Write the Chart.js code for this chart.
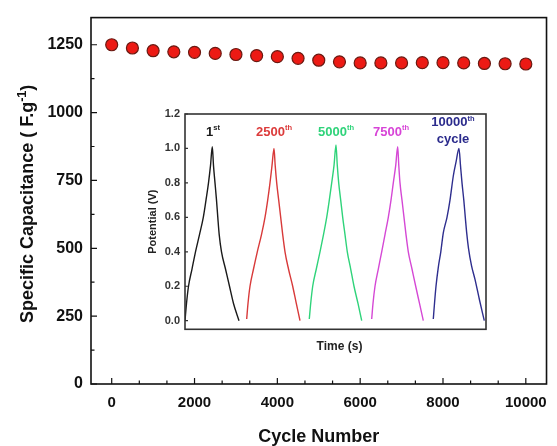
<!DOCTYPE html>
<html><head><meta charset="utf-8">
<script src="https://cdn.jsdelivr.net/npm/chart.js@4.4.1/dist/chart.umd.min.js"></script>
<style>
html,body{margin:0;padding:0;background:#fff;}
#wrap{position:relative;width:557px;height:446px;background:#fff;}
#main{position:absolute;left:0;top:0;}
#inset{position:absolute;left:140px;top:100px;}
</style></head><body>
<div id="wrap">
<canvas id="main" width="557" height="446"></canvas>
<canvas id="inset" width="360" height="260"></canvas>
</div>
<script>
// ---------- main chart data ----------
const cycleNumbers = [0,500,1000,1500,2000,2500,3000,3500,4000,4500,5000,5500,6000,6500,7000,7500,8000,8500,9000,9500,10000];
const capacitance  = [1250,1238,1228,1224,1222,1218,1214,1210,1206,1200,1193,1187,1183,1183,1183,1184,1184,1183,1181,1180,1179];
const xTickLabels = [0,2000,4000,6000,8000,10000];
const xMinorTicks = [666.7,1333.3,2666.7,3333.3,4666.7,5333.3,6666.7,7333.3,8666.7,9333.3];
const yTickLabels = [0,250,500,750,1000,1250];
const yMinorTicks = [125,375,625,875,1125];

// ---------- inset data (galvanostatic charge/discharge) ----------
const insetYTicks = [0,0.2,0.4,0.6,0.8,1.0,1.2];
const cycle1Time      = [0,1.5,3.5,7,10.5,14.5,18.3,21,23.5,25.5,27.3,28.5,30,31.5,32.8,34.2,36.5,40.5,44.5,48.5,54];
const cycle1Potential = [0.0,0.1,0.2,0.3,0.4,0.5,0.6,0.7,0.8,0.9,1.01,0.9,0.8,0.7,0.6,0.5,0.4,0.3,0.2,0.1,0.0];
const cycle2500Time      = [61.7,63,65,68.5,72.3,76.5,80,82.7,85,87,89,90.2,91.7,93.7,95.7,97.7,100,103.5,107.7,111.3,115];
const cycle2500Potential = [0.01,0.1,0.2,0.3,0.4,0.5,0.6,0.7,0.8,0.9,1.0,0.9,0.8,0.7,0.6,0.5,0.4,0.3,0.2,0.1,0.0];
const cycle5000Time      = [124.3,125.7,127.7,131.3,135,138.5,141.7,144.3,146.7,149,151,152.3,153.7,155.7,157.7,160,162.3,165.7,169,173,176.7];
const cycle5000Potential = [0.01,0.1,0.2,0.3,0.4,0.5,0.6,0.7,0.8,0.9,1.02,0.9,0.8,0.7,0.6,0.5,0.4,0.3,0.2,0.1,0.0];
const cycle7500Time      = [186.7,188,190,193.3,196.7,200,203.3,206,208.3,210.7,212.7,213.8,215,217,219,221,223.3,227,230.7,234.5,238.3];
const cycle7500Potential = [0.01,0.1,0.2,0.3,0.4,0.5,0.6,0.7,0.8,0.9,1.01,0.9,0.8,0.7,0.6,0.5,0.4,0.3,0.2,0.1,0.0];
const cycle10000Time      = [248.3,249.5,251,253.3,255.8,258.3,262,265,268.3,271,274,275.5,277,278.8,280.3,281.7,283.5,286.5,290,294.5,299.3];
const cycle10000Potential = [0.01,0.1,0.2,0.31,0.4,0.51,0.6,0.7,0.84,0.92,1.0,0.9,0.8,0.7,0.6,0.51,0.42,0.32,0.24,0.12,0.0];
const insetLabels = [
  {parts:[['1',0],['st',1]], t:28, v:1.10, color:'#1a1a1a'},
  {parts:[['2500',0],['th',1]], t:89, v:1.10, color:'#dc3b3b'},
  {parts:[['5000',0],['th',1]], t:151, v:1.10, color:'#2fd37a'},
  {parts:[['7500',0],['th',1]], t:206, v:1.10, color:'#d744d7'},
  {parts:[['10000',0],['th',1]], t:268, v:1.157, color:'#2b2b8c'},
  {parts:[['cycle',0]], t:268, v:1.056, color:'#2b2b8c'}
];

const FONT = '"Liberation Sans", Arial, Helvetica, sans-serif';
function drawRich(ctx, parts, x, yc, size, color, supScale){
  supScale = supScale || 0.6;
  let w = 0;
  parts.forEach(p=>{ctx.font='bold '+(p[1]?size*supScale:size)+'px '+FONT; w+=ctx.measureText(p[0]).width;});
  let cx = x - w/2;
  const base = yc + size*0.36;
  ctx.fillStyle = color; ctx.textAlign='left'; ctx.textBaseline='alphabetic';
  parts.forEach(p=>{
    const s = p[1]?size*supScale:size;
    ctx.font='bold '+s+'px '+FONT;
    ctx.fillText(p[0], cx, p[1]? base - size*0.42 : base);
    cx += ctx.measureText(p[0]).width;
  });
}

const mainDecor = {
  id:'mainDecor',
  afterDraw(chart){
    const {ctx, chartArea:a, scales:{x,y}} = chart;
    ctx.save();
    ctx.strokeStyle='#111'; ctx.lineWidth=1.2;
    ctx.beginPath();
    xTickLabels.forEach(v=>{const p=x.getPixelForValue(v); ctx.moveTo(p,a.bottom); ctx.lineTo(p,a.bottom-6);});
    xMinorTicks.forEach(v=>{const p=x.getPixelForValue(v); ctx.moveTo(p,a.bottom); ctx.lineTo(p,a.bottom-3.5);});
    yTickLabels.forEach(v=>{const p=y.getPixelForValue(v); ctx.moveTo(a.left,p); ctx.lineTo(a.left+6,p);});
    yMinorTicks.forEach(v=>{const p=y.getPixelForValue(v); ctx.moveTo(a.left,p); ctx.lineTo(a.left+3.5,p);});
    ctx.stroke();
    ctx.lineWidth=1.6;
    ctx.strokeRect(a.left, a.top, a.right-a.left, a.bottom-a.top);
    drawRich(ctx, [['Cycle Number',0]], (a.left+a.right)/2, 436, 18, '#111');
    ctx.translate(27, (a.top+a.bottom)/2 + 3);
    ctx.rotate(-Math.PI/2);
    drawRich(ctx, [['Specific Capacitance ( F.g',0],['-1',1],[')',0]], 0, 0, 18, '#111', 0.7);
    ctx.restore();
  }
};

new Chart(document.getElementById('main'), {
  type:'scatter',
  data:{datasets:[{
    data: cycleNumbers.map((c,i)=>({x:c, y:capacitance[i]})),
    pointRadius:6, pointHoverRadius:6,
    backgroundColor:'#ec1a14', borderColor:'#6a1a12', borderWidth:1.2
  }]},
  options:{
    responsive:false, animation:false, devicePixelRatio:1,
    layout:{padding:{top:15, right:4, left:0, bottom:0}},
    plugins:{legend:{display:false}, tooltip:{enabled:false}},
    scales:{
      x:{type:'linear', min:-500, max:10500,
        afterBuildTicks(s){ s.ticks = xTickLabels.map(v=>({value:v})); },
        afterFit(s){ s.height = 62; },
        grid:{display:false, drawTicks:false}, border:{display:false},
        ticks:{padding:10, color:'#111', font:{family:FONT, size:15, weight:'bold'}, callback:v=>String(v)}
      },
      y:{type:'linear', min:0, max:1350,
        afterBuildTicks(s){ s.ticks = yTickLabels.map(v=>({value:v})); },
        afterFit(s){ s.width = 91; },
        grid:{display:false, drawTicks:false}, border:{display:false},
        ticks:{padding:8, color:'#111', font:{family:FONT, size:16, weight:'bold'}, callback:v=>String(v)}
      }
    }
  },
  plugins:[mainDecor]
});

const insetDecor = {
  id:'insetDecor',
  afterDraw(chart){
    const {ctx, chartArea:a, scales:{x,y}} = chart;
    ctx.save();
    ctx.strokeStyle='#333'; ctx.lineWidth=1.2;
    ctx.beginPath();
    insetYTicks.forEach(v=>{const p=y.getPixelForValue(v); ctx.moveTo(a.left,p); ctx.lineTo(a.left+3,p);});
    ctx.stroke();
    ctx.lineWidth=1.6;
    ctx.strokeRect(a.left, a.top, a.right-a.left, a.bottom-a.top);
    insetLabels.forEach(l=>drawRich(ctx, l.parts, x.getPixelForValue(l.t), y.getPixelForValue(l.v), 13, l.color, 0.58));
    drawRich(ctx, [['Time (s)',0]], (a.left+a.right)/2+4, 246, 12, '#222');
    ctx.translate(12, (a.top+a.bottom)/2);
    ctx.rotate(-Math.PI/2);
    drawRich(ctx, [['Potential (V)',0]], 0, 0, 11, '#222');
    ctx.restore();
  }
};

function curve(t, v, color){
  return {data:t.map((tt,i)=>({x:tt, y:v[i]})), borderColor:color, borderWidth:1.4,
    pointRadius:0, fill:false, cubicInterpolationMode:'monotone'};
}

new Chart(document.getElementById('inset'), {
  type:'line',
  data:{datasets:[
    curve(cycle1Time, cycle1Potential, '#1a1a1a'),
    curve(cycle2500Time, cycle2500Potential, '#d83a3a'),
    curve(cycle5000Time, cycle5000Potential, '#2fd37a'),
    curve(cycle7500Time, cycle7500Potential, '#d548d5'),
    curve(cycle10000Time, cycle10000Potential, '#2e2e8e')
  ]},
  options:{
    responsive:false, animation:false, devicePixelRatio:1,
    layout:{padding:{top:14, right:14, left:0, bottom:0}},
    plugins:{legend:{display:false}, tooltip:{enabled:false}},
    scales:{
      x:{type:'linear', min:0, max:301,
        afterFit(s){ s.height = 30.7; },
        grid:{display:false, drawTicks:false}, border:{display:false},
        ticks:{display:false}
      },
      y:{type:'linear', min:-0.05, max:1.2,
        afterBuildTicks(s){ s.ticks = insetYTicks.map(v=>({value:v})); },
        afterFit(s){ s.width = 45; },
        grid:{display:false, drawTicks:false}, border:{display:false},
        ticks:{padding:5, color:'#333', font:{family:FONT, size:11, weight:'bold'}, callback:v=>v.toFixed(1)}
      }
    }
  },
  plugins:[insetDecor]
});
</script>
</body></html>
